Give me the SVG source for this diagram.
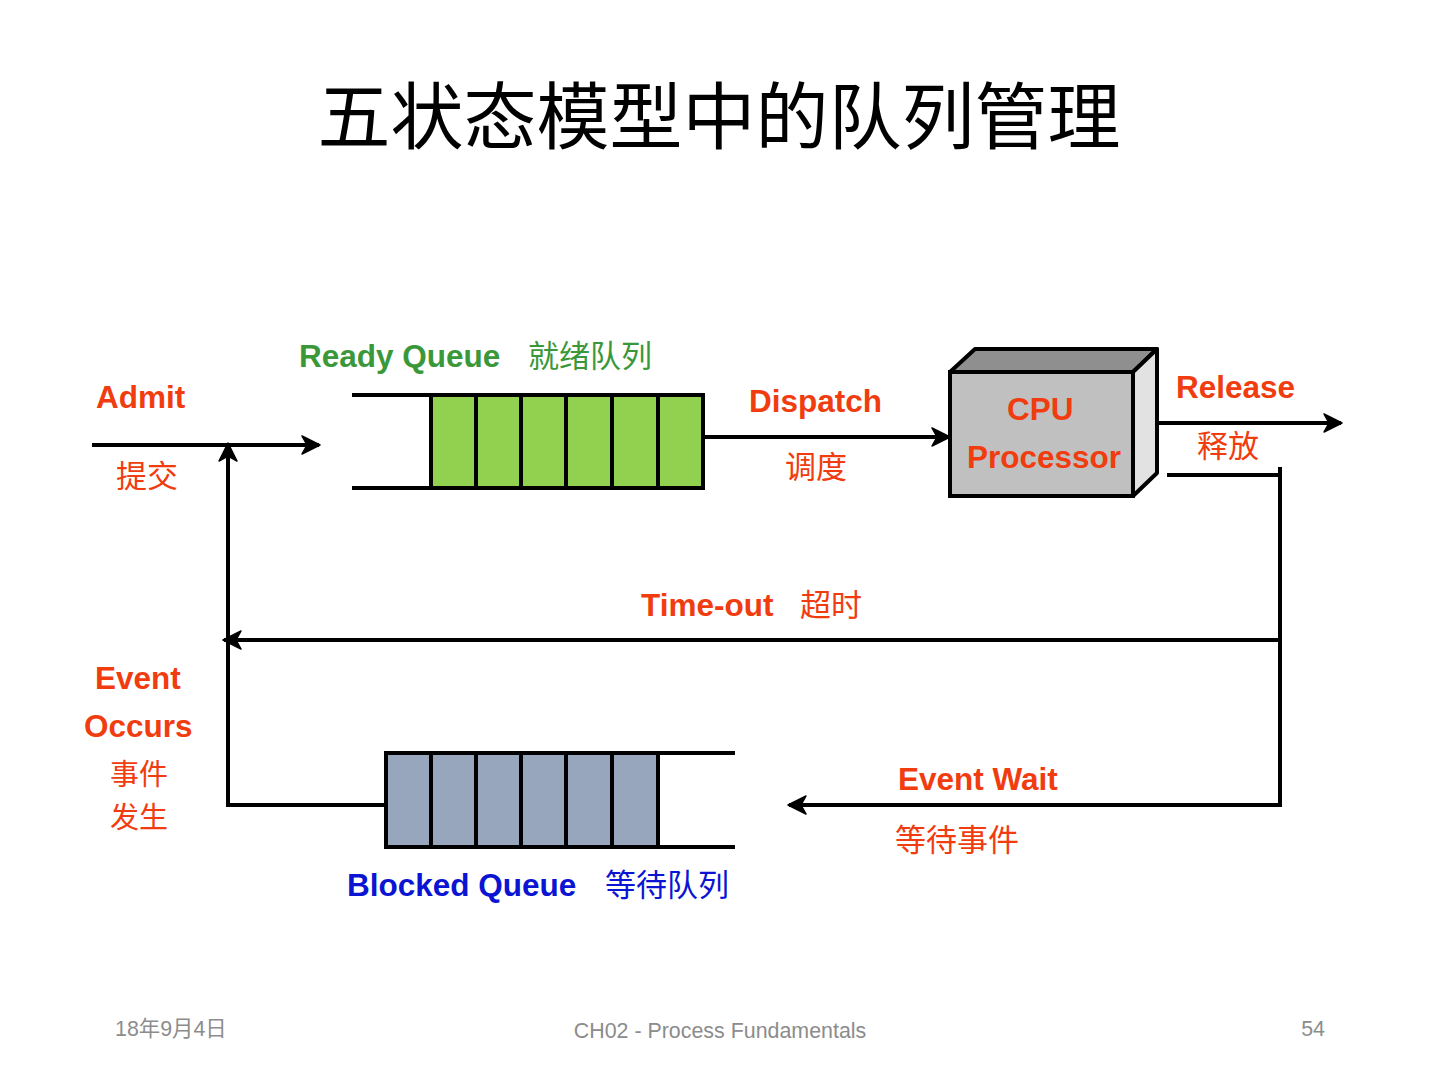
<svg xmlns="http://www.w3.org/2000/svg" width="1440" height="1080" viewBox="0 0 1440 1080">
<style>
.ln{stroke:#000;stroke-width:4;fill:none}
.lbl{font-family:"Liberation Sans",Arial,"Noto Sans CJK SC",sans-serif;font-weight:bold;font-size:31.5px;fill:#f03c0e}
.cjk{font-family:"Noto Sans CJK SC",sans-serif;font-weight:normal;font-size:31px}
.foot{font-family:"Liberation Sans","Noto Sans CJK SC",sans-serif;font-size:21.4px;fill:#8c8c8c}
</style>
<defs>
<marker id="ah" markerUnits="userSpaceOnUse" markerWidth="22" markerHeight="22" viewBox="0 0 22 22" refX="19" refY="11" orient="auto">
<path d="M2,2 L20,11 L2,20 L7,11 z" fill="#000" stroke="#000" stroke-width="1.5" stroke-linejoin="round"/>
</marker>
</defs>
<rect width="1440" height="1080" fill="#fff"/>
<text x="719" y="143" text-anchor="middle" font-family="Noto Sans CJK SC,sans-serif" font-size="73" fill="#000">五状态模型中的队列管理</text>

<g id="connectors">
<line class="ln" x1="92" y1="445" x2="319" y2="445" marker-end="url(#ah)"/>
<line class="ln" x1="228" y1="807" x2="228" y2="444" marker-end="url(#ah)"/>
<line class="ln" x1="703" y1="437" x2="949" y2="437" marker-end="url(#ah)"/>
<line class="ln" x1="1153" y1="423" x2="1341" y2="423" marker-end="url(#ah)"/>
<polyline class="ln" points="1167,475 1280,475"/>
<line class="ln" x1="1280" y1="467" x2="1280" y2="807"/>
<line class="ln" x1="1280" y1="640" x2="224" y2="640" marker-end="url(#ah)"/>
<line class="ln" x1="1282" y1="805" x2="789" y2="805" marker-end="url(#ah)"/>
<line class="ln" x1="226" y1="805" x2="386" y2="805"/>
</g>

<g id="ready-queue">
<line class="ln" x1="352" y1="395" x2="703" y2="395"/>
<line class="ln" x1="352" y1="488" x2="703" y2="488"/>
<rect x="431" y="395" width="272" height="93" fill="#92d050" stroke="#000" stroke-width="4"/>
<path class="ln" d="M476,395V488M521,395V488M566,395V488M612,395V488M658,395V488"/>
</g>

<g id="blocked-queue">
<line class="ln" x1="386" y1="753" x2="735" y2="753"/>
<line class="ln" x1="386" y1="847" x2="735" y2="847"/>
<rect x="386" y="753" width="272" height="94" fill="#97a6bd" stroke="#000" stroke-width="4"/>
<path class="ln" d="M431,753V847M476,753V847M521,753V847M566,753V847M612,753V847"/>
</g>

<g id="cpu">
<polygon points="950,372 975,349 1157,349 1133,372" fill="#8f8f8f" stroke="#000" stroke-width="4" stroke-linejoin="round"/>
<polygon points="1133,372 1157,349 1157,473 1133,496" fill="#e2e2e2" stroke="#000" stroke-width="4" stroke-linejoin="round"/>
<rect x="950" y="372" width="183" height="124" fill="#c0c0c0" stroke="#000" stroke-width="4"/>
<text class="lbl" x="1007" y="420">CPU</text>
<text class="lbl" x="967" y="468">Processor</text>
</g>

<g id="labels">
<text class="lbl" x="299" y="367" style="fill:#3a983a">Ready Queue<tspan class="cjk" x="528">就绪队列</tspan></text>
<text class="lbl" x="96" y="408">Admit</text>
<text class="lbl cjk" x="116" y="487">提交</text>
<text class="lbl" x="749" y="412">Dispatch</text>
<text class="lbl cjk" x="785" y="478">调度</text>
<text class="lbl" x="1176" y="398">Release</text>
<text class="lbl cjk" x="1197" y="457">释放</text>
<text class="lbl" x="641" y="616">Time-out<tspan class="cjk" x="800">超时</tspan></text>
<text class="lbl" x="95" y="689">Event</text>
<text class="lbl" x="84" y="737">Occurs</text>
<text class="lbl cjk" x="110" y="785" style="font-size:29px">事件</text>
<text class="lbl cjk" x="110" y="828" style="font-size:29px">发生</text>
<text class="lbl" x="898" y="790">Event Wait</text>
<text class="lbl cjk" x="895" y="851">等待事件</text>
<text class="lbl" x="347" y="896" style="fill:#0a14d2">Blocked Queue<tspan class="cjk" x="605">等待队列</tspan></text>
</g>

<g id="footer">
<text class="foot" x="115" y="1036">18年9月4日</text>
<text class="foot" x="720" y="1038" text-anchor="middle">CH02 - Process Fundamentals</text>
<text class="foot" x="1325" y="1036" text-anchor="end">54</text>
</g>
</svg>
